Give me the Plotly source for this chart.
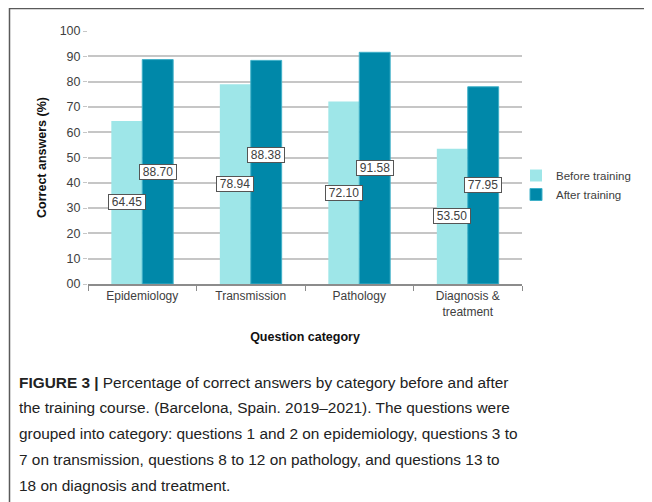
import plotly.graph_objects as go

categories = ["Epidemiology", "Transmission", "Pathology", "Diagnosis &<br>treatment"]
before_values = [64.45, 78.94, 72.10, 53.50]
after_values = [88.70, 88.38, 91.58, 77.95]
series_names = ["Before training", "After training"]
y_tick_values = [0, 10, 20, 30, 40, 50, 60, 70, 80, 90, 100]
y_tick_labels = ["00", "10", "20", "30", "40", "50", "60", "70", "80", "90", "100"]
caption_lines = [
    "<b>FIGURE 3 |</b> Percentage of correct answers by category before and after",
    "the training course. (Barcelona, Spain. 2019–2021). The questions were",
    "grouped into category: questions 1 and 2 on epidemiology, questions 3 to",
    "7 on transmission, questions 8 to 12 on pathology, and questions 13 to",
    "18 on diagnosis and treatment.",
]

# page body has a default 8px margin; work in screen pixels and convert.
OFF = 8
SW, SH = 652, 502
W, H = SW - OFF, SH - OFF
L, R, T, B = 88, 522, 31, 284  # plot area in screen pixels
PW, PH = R - L, B - T

def px_x(px):
    return (px - L) / PW

def px_y(py):
    return (B - py) / PH

C_BEFORE = "#9ee6e8"
C_AFTER = "#0088a9"

fig = go.Figure()
fig.add_trace(go.Bar(x=categories, y=before_values, name=series_names[0],
                     marker=dict(color=C_BEFORE, line=dict(width=0))))
fig.add_trace(go.Bar(x=categories, y=after_values, name=series_names[1],
                     marker=dict(color=C_AFTER, line=dict(width=1, color="#3fb0c8"))))

annotations = []
bar_px = PW / len(categories) * (1 - 0.43) / 2
# label nudges (in axis units) to avoid overlapping boxes, as in the original
label_nudge = {("after", 1): 6.8}
for key, vals, shift in (("before", before_values, -bar_px / 2), ("after", after_values, bar_px / 2)):
    for i, (c, v) in enumerate(zip(categories, vals)):
        annotations.append(dict(
            x=c, y=v / 2 + label_nudge.get((key, i), 0), xref="x", yref="y", xshift=shift,
            text=f"{v:.2f}", showarrow=False, width=34, height=12,
            font=dict(family="Arial, Liberation Sans", size=12, color="#404040"),
            bgcolor="white", bordercolor="#555555", borderwidth=1, borderpad=1,
        ))

cap_font = dict(family="Liberation Sans Narrow, Arial Narrow, Liberation Sans", size=15.4, color="#222222")
for i, line in enumerate(caption_lines):
    annotations.append(dict(
        x=px_x(17), y=px_y(382 + i * 25.8), xref="paper", yref="paper",
        xanchor="left", yanchor="middle", text=line, showarrow=False,
        font=cap_font, align="left",
    ))

shapes = [
    dict(type="line", xref="paper", yref="paper", x0=px_x(9), x1=px_x(SW),
         y0=px_y(8.5), y1=px_y(8.5), line=dict(color="#5a5a5a", width=1.5)),
    dict(type="line", xref="paper", yref="paper", x0=px_x(9.5), x1=px_x(9.5),
         y0=px_y(8), y1=px_y(SH), line=dict(color="#5a5a5a", width=1.5)),
]

fig.update_layout(
    width=W, height=H,
    margin=dict(l=L - OFF, r=SW - R, t=T - OFF, b=SH - B, pad=0, autoexpand=False),
    paper_bgcolor="white", plot_bgcolor="white",
    barmode="group", bargap=0.43, bargroupgap=0,
    font=dict(family="Arial, Liberation Sans", color="#404040"),
    showlegend=True,
    legend=dict(x=px_x(516), y=px_y(161), xanchor="left", yanchor="top",
                font=dict(size=11.5, color="#404040"), itemwidth=30,
                tracegroupgap=0, bgcolor="rgba(0,0,0,0)"),
    annotations=annotations,
    shapes=shapes,
)
fig.update_xaxes(
    automargin=False,
    showline=True, linecolor="#8c8c8c", linewidth=1.5,
    ticks="outside", tickson="boundaries", ticklen=5, tickcolor="#8c8c8c",
    tickfont=dict(size=12, color="#404040"),
    title=dict(text="<b>Question category</b>", font=dict(size=12.5, color="#111111"), standoff=14),
)
fig.update_yaxes(
    automargin=False,
    range=[0, 100], tickvals=y_tick_values, ticktext=y_tick_labels,
    showgrid=True, gridcolor="#c6c6c6", gridwidth=1.5,
    ticks="outside", ticklen=4, tickcolor="#c6c6c6",
    showline=False, zeroline=False,
    tickfont=dict(size=12.5, color="#404040"),
    title=dict(text="<b>Correct answers (%)</b>", font=dict(size=12.5, color="#111111"), standoff=10),
)

fig.write_html("out.html")
